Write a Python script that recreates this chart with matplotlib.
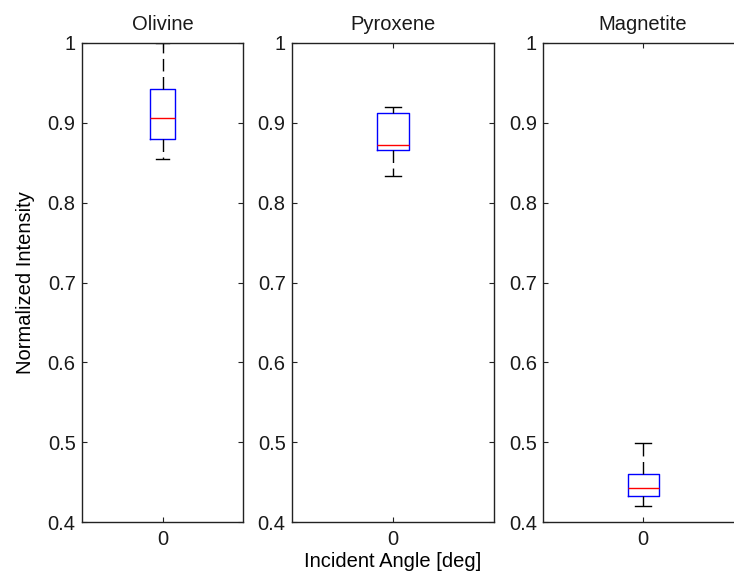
import matplotlib
matplotlib.use('Agg')
import matplotlib.pyplot as plt

# mineral names and the five numbers of each box
minerals = ['Olivine', 'Pyroxene', 'Magnetite']
whisker_low = [0.855, 0.834, 0.420]
box_low = [0.880, 0.866, 0.432]
medians = [0.906, 0.872, 0.443]
box_high = [0.942, 0.912, 0.460]
whisker_high = [1.000, 0.920, 0.4985]
angle_labels = ['0']
y_ticks = [0.4, 0.5, 0.6, 0.7, 0.8, 0.9, 1.0]
y_tick_labels = ['0.4', '0.5', '0.6', '0.7', '0.8', '0.9', '1']

plt.rcParams['font.family'] = ['Liberation Sans', 'DejaVu Sans']
plt.rcParams['text.color'] = '#1a1a1a'
fs = 14.5

fig = plt.figure(figsize=(7.34, 5.80), dpi=100)

#axes boxes in pixels: left, width  (the third one runs past the edge)
px_boxes = [(82, 161), (292, 202), (543, 200)]
top, bottom = 43, 522

axes = []
for i, name in enumerate(minerals):
    left, width = px_boxes[i]
    ax = fig.add_axes([left / 734, (580 - bottom) / 580,
                       width / 734, (bottom - top) / 580])
    stats = [{'med': medians[i], 'q1': box_low[i], 'q3': box_high[i],
              'whislo': whisker_low[i], 'whishi': whisker_high[i],
              'fliers': [], 'label': angle_labels[0]}]
    ax.bxp(stats, positions=[1], widths=0.155, showfliers=False,
           boxprops=dict(color='blue', linewidth=1),
           medianprops=dict(color='red', linewidth=1),
           whiskerprops=dict(color='black', linestyle=(0, (9, 4)), linewidth=1),
           capprops=dict(color='black', linewidth=1),
           capwidths=0.08)
    ax.set_xlim(0.5, 1.5)
    ax.set_ylim(0.4, 1.0)
    ax.set_yticks(y_ticks)
    ax.set_yticklabels(y_tick_labels)
    ax.set_xticks([1])
    ax.set_xticklabels(angle_labels)
    ax.tick_params(direction='in', top=True, right=True, length=3.5,
                   labelsize=fs, colors='#222222', labelcolor='#1a1a1a', pad=4.5)
    ax.tick_params(axis='x', pad=6)
    for s in ax.spines.values():
        s.set_color('#222222')
        s.set_linewidth(1)
    ax.set_title(name, fontsize=fs, pad=9)
    axes.append(ax)

axes[0].set_ylabel('Normalized Intensity', fontsize=fs, labelpad=9)
axes[1].set_xlabel('Incident Angle [deg]', fontsize=fs, labelpad=2)

fig.savefig('out.png', dpi=100)
